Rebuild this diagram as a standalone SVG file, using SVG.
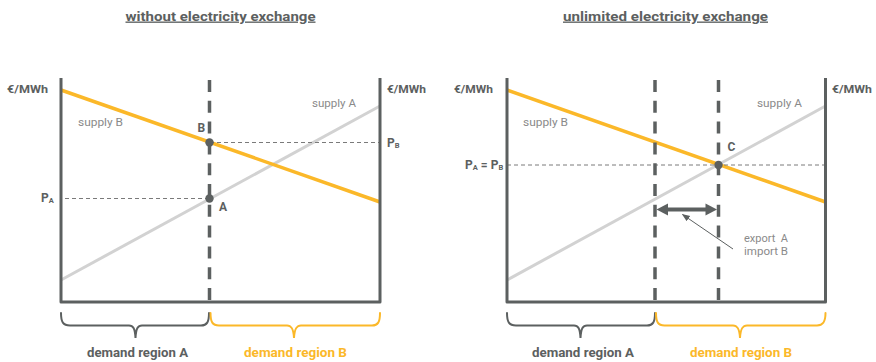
<svg xmlns="http://www.w3.org/2000/svg" width="876" height="362" viewBox="0 0 876 362">
  <style>
    text { font-family: Roboto, "DejaVu Sans", sans-serif; }
    .title { font-size: 13.5px; font-weight: bold; fill: #5c6060; text-decoration: underline; }
    .unit { font-size: 11px; font-weight: bold; fill: #5c6060; }
    .lbl { font-size: 11px; fill: #8a8a8a; }
    .pt { font-size: 12px; font-weight: bold; fill: #5c6060; }
    .sub { font-size: 7.5px; font-weight: bold; fill: #5c6060; }
    .dem { font-size: 12px; font-weight: bold; }
    .axis { fill: none; stroke: #5c6060; stroke-width: 3; stroke-linejoin: round; }
    .supA { stroke: #d2d2d2; stroke-width: 3; }
    .supB { stroke: #fbb829; stroke-width: 3.5; }
    .border { stroke: #5c6060; stroke-width: 3.5; stroke-dasharray: 12 8.8; }
    .price { stroke: #7a7a7a; stroke-width: 1; stroke-dasharray: 4 3; }
    .brace { fill: none; stroke-width: 2; stroke-linecap: round; }
    .dot { fill: #5c6060; }
  </style>
  <defs>
    <marker id="tip" viewBox="0 0 10 10" refX="9" refY="5" markerWidth="8" markerHeight="8" markerUnits="userSpaceOnUse" orient="auto">
      <path d="M0,1 L10,5 L0,9 Z" fill="#5c6060"/>
    </marker>
  </defs>

  <!-- Left panel: separate markets -->
  <g id="panel-separate">
    <text class="title" x="220.5" y="20.5" text-anchor="middle" textLength="190" lengthAdjust="spacingAndGlyphs">without electricity exchange</text>
    <text class="unit" x="7" y="93" textLength="41" lengthAdjust="spacingAndGlyphs">€/MWh</text>
    <text class="unit" x="387" y="93" textLength="39" lengthAdjust="spacingAndGlyphs">€/MWh</text>

    <g id="curves-left">
      <line class="supA" x1="61" y1="280" x2="380" y2="106"/>
      <line class="supB" x1="61" y1="90" x2="380" y2="202"/>
      <line class="price" x1="65" y1="198.5" x2="210" y2="198.5"/>
      <line class="price" x1="210" y1="142.5" x2="380" y2="142.5"/>
    </g>
    <line class="border" x1="209.5" y1="80" x2="209.5" y2="302"/>
    <path class="axis" d="M61,78 V302 H380 V78"/>

    <g id="point-B">
      <circle class="dot" cx="209.5" cy="142.5" r="4.2"/>
      <text class="pt" x="197.5" y="131.5">B</text>
    </g>
    <g id="point-A">
      <circle class="dot" cx="209.5" cy="198.5" r="4.2"/>
      <text class="pt" x="219" y="210.5">A</text>
    </g>
    <text class="pt" x="41" y="201.5">P<tspan class="sub" dy="1">A</tspan></text>
    <text class="pt" x="387" y="146.5">P<tspan class="sub" dy="1">B</tspan></text>

    <text class="lbl" x="312" y="106.5" textLength="44" lengthAdjust="spacingAndGlyphs">supply A</text>
    <text class="lbl" x="78" y="126" textLength="45" lengthAdjust="spacingAndGlyphs">supply B</text>

    <path class="brace" stroke="#5c6060" d="M61,313 C61,322 63,325.5 70,325.5 L129,325.5 C133,325.5 135,328 135.5,338 C136,328 138,325.5 142,325.5 L201,325.5 C207,325.5 209,322 209,313"/>
    <path class="brace" stroke="#fbb829" d="M210.5,313 C210.5,322 212.5,325.5 219,325.5 L287,325.5 C291,325.5 293.5,328 294,338 C294.5,328 297,325.5 301,325.5 L372,325.5 C378,325.5 380,322 380,313"/>
    <text class="dem" x="137.5" y="356.5" text-anchor="middle" fill="#5c6060" textLength="101" lengthAdjust="spacingAndGlyphs">demand region A</text>
    <text class="dem" x="295.5" y="356.5" text-anchor="middle" fill="#fbb829" textLength="103" lengthAdjust="spacingAndGlyphs">demand region B</text>
  </g>

  <!-- Right panel: coupled markets -->
  <g id="panel-coupled">
    <text class="title" x="665.5" y="20.5" text-anchor="middle" textLength="205" lengthAdjust="spacingAndGlyphs">unlimited electricity exchange</text>
    <text class="unit" x="454" y="93" textLength="39" lengthAdjust="spacingAndGlyphs">€/MWh</text>
    <text class="unit" x="832" y="93" textLength="40" lengthAdjust="spacingAndGlyphs">€/MWh</text>

    <g id="curves-right">
      <line class="supA" x1="507" y1="280" x2="825.5" y2="106"/>
      <line class="supB" x1="507" y1="90" x2="825.5" y2="202"/>
      <line class="price" x1="507" y1="165" x2="825.5" y2="165"/>
    </g>
    <line class="border" x1="655" y1="80" x2="655" y2="302"/>
    <line class="border" x1="718.5" y1="80" x2="718.5" y2="302"/>
    <path class="axis" d="M507,78 V302 H825.5 V78"/>

    <g id="point-C">
      <circle class="dot" cx="718.5" cy="165" r="4.2"/>
      <text class="pt" x="727.5" y="150.5">C</text>
    </g>
    <text class="pt" x="465" y="168.5">P<tspan class="sub" dy="1">A</tspan><tspan dy="-1"> = P</tspan><tspan class="sub" dy="1">B</tspan></text>

    <text class="lbl" x="757" y="106.5" textLength="45" lengthAdjust="spacingAndGlyphs">supply A</text>
    <text class="lbl" x="523" y="126" textLength="45" lengthAdjust="spacingAndGlyphs">supply B</text>

    <g id="flow-arrow">
      <line x1="665" y1="209.5" x2="709" y2="209.5" stroke="#5c6060" stroke-width="4"/>
      <polygon points="656.5,209.5 668,203.5 668,215.5" fill="#5c6060"/>
      <polygon points="717,209.5 705.5,203.5 705.5,215.5" fill="#5c6060"/>
    </g>
    <g id="connectors">
      <line x1="733" y1="249" x2="682.5" y2="214.5" stroke="#5c6060" stroke-width="1" marker-end="url(#tip)"/>
    </g>
    <text class="lbl" x="744" y="241.5" textLength="44" lengthAdjust="spacingAndGlyphs">export&#160;&#160;A</text>
    <text class="lbl" x="744" y="255" textLength="44" lengthAdjust="spacingAndGlyphs">import B</text>

    <path class="brace" stroke="#5c6060" d="M507,313 C507,322 509,325.5 516,325.5 L574,325.5 C578,325.5 580,328 580.5,338 C581,328 583,325.5 587,325.5 L647,325.5 C653,325.5 655,322 655,313"/>
    <path class="brace" stroke="#fbb829" d="M656,313 C656,322 658,325.5 664.5,325.5 L733,325.5 C737,325.5 739.5,328 740,338 C740.5,328 743,325.5 747,325.5 L817,325.5 C823,325.5 825.5,322 825.5,313"/>
    <text class="dem" x="583" y="356.5" text-anchor="middle" fill="#5c6060" textLength="102" lengthAdjust="spacingAndGlyphs">demand region A</text>
    <text class="dem" x="741" y="356.5" text-anchor="middle" fill="#fbb829" textLength="102" lengthAdjust="spacingAndGlyphs">demand region B</text>
  </g>
</svg>
